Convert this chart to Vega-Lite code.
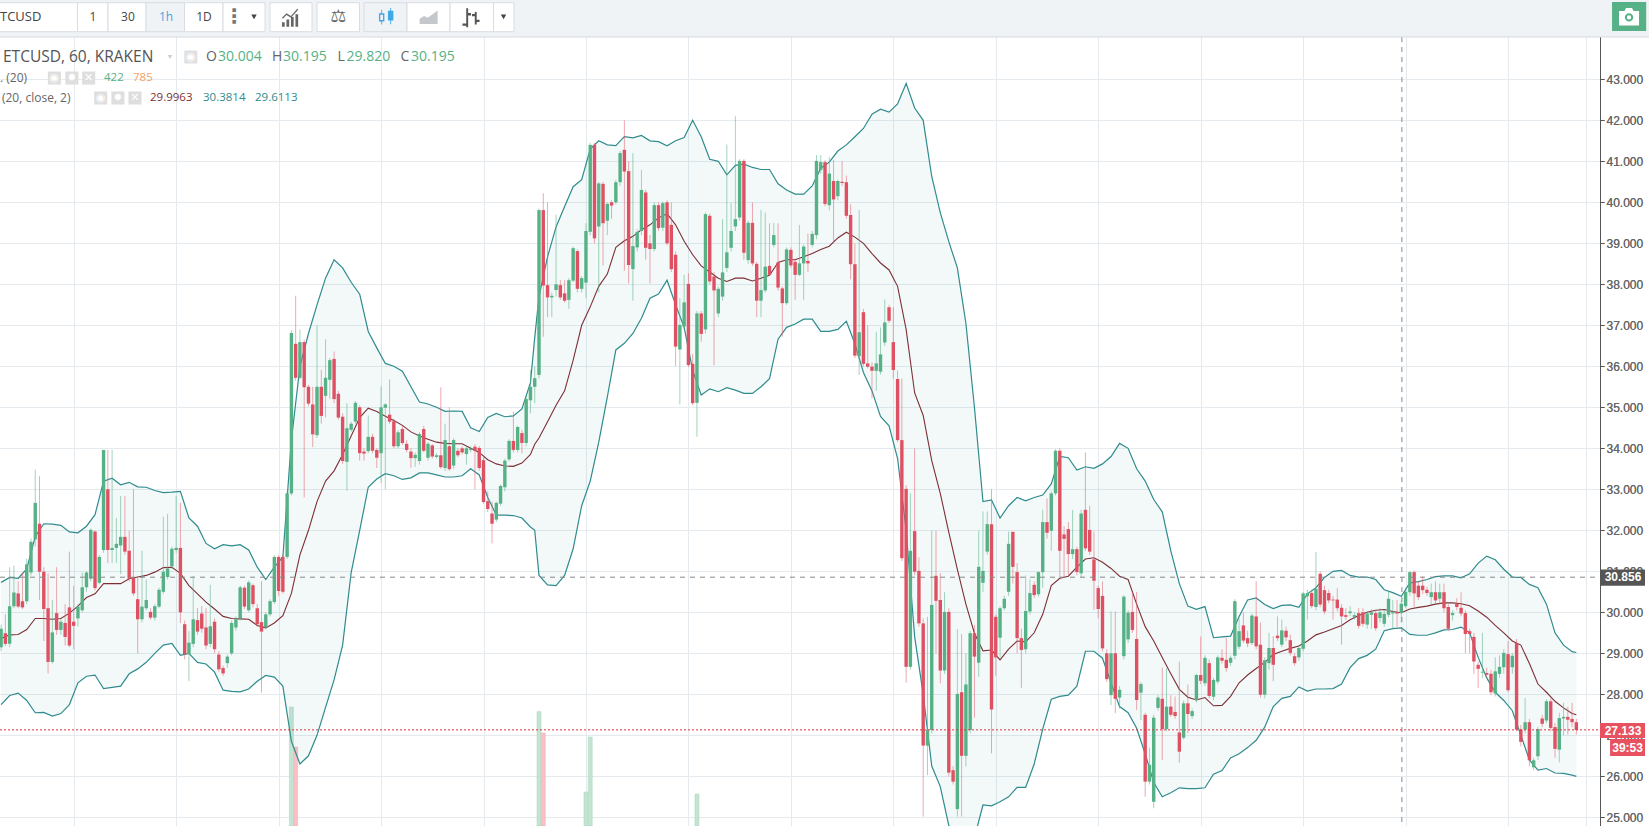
{"$schema":"https://vega.github.io/schema/vega-lite/v6.json","width":1600,"height":826,"autosize":{"type":"none"},"padding":{"left":0,"top":0,"right":49,"bottom":0},"background":"#ffffff","config":{"view":{"stroke":null},"text":{"font":"Open Sans","baseline":"middle","align":"left"}},
"datasets":{
"candles":[
{"t":0,"o":29.15,"h":29.7,"l":29.05,"c":29.6},{"t":1,"o":29.49,"h":29.95,"l":29.18,"c":29.23},{"t":2,"o":29.23,"h":31.1,"l":29.15,"c":30.15},{"t":3,"o":30.15,"h":31.14,"l":30.1,"c":30.48},{"t":4,"o":30.46,"h":30.76,"l":30.1,"c":30.14},{"t":5,"o":30.27,"h":30.97,"l":30.08,"c":30.12},{"t":6,"o":30.27,"h":31.31,"l":30.2,"c":31.17},{"t":7,"o":30.97,"h":31.8,"l":30.9,"c":31.72},{"t":8,"o":31.78,"h":33.48,"l":31.6,"c":32.67},{"t":9,"o":32.16,"h":33.32,"l":30.3,"c":30.99},
{"t":10,"o":30.99,"h":31.1,"l":29.3,"c":30.08},{"t":11,"o":30.1,"h":30.95,"l":28.51,"c":28.79},{"t":12,"o":28.79,"h":30.3,"l":28.75,"c":29.51},{"t":13,"o":29.98,"h":31.1,"l":29.45,"c":29.57},{"t":14,"o":29.57,"h":29.85,"l":29.45,"c":29.77},{"t":15,"o":29.74,"h":30.2,"l":29.19,"c":29.4},{"t":16,"o":30.12,"h":31.48,"l":29.15,"c":29.19},{"t":17,"o":29.77,"h":30.65,"l":29.1,"c":29.67},{"t":18,"o":29.85,"h":30.2,"l":29.65,"c":30.14},{"t":19,"o":30.05,"h":30.97,"l":30.0,"c":30.61},
{"t":20,"o":30.61,"h":31.0,"l":30.5,"c":30.97},{"t":21,"o":30.82,"h":32.05,"l":30.75,"c":32.01},{"t":22,"o":31.97,"h":32.0,"l":30.53,"c":30.59},{"t":23,"o":30.72,"h":31.4,"l":30.68,"c":31.35},{"t":24,"o":31.52,"h":33.96,"l":31.45,"c":33.96},{"t":25,"o":33.0,"h":33.96,"l":31.2,"c":31.52},{"t":26,"o":31.52,"h":33.96,"l":31.2,"c":31.57},{"t":27,"o":31.57,"h":32.3,"l":31.2,"c":31.67},{"t":28,"o":31.63,"h":32.84,"l":30.93,"c":31.84},{"t":29,"o":31.84,"h":32.84,"l":31.4,"c":31.48},
{"t":30,"o":31.5,"h":31.99,"l":30.75,"c":30.82},{"t":31,"o":30.84,"h":33.0,"l":30.4,"c":30.46},{"t":32,"o":30.32,"h":30.84,"l":29.0,"c":29.83},{"t":33,"o":29.83,"h":31.5,"l":29.75,"c":30.14},{"t":34,"o":30.1,"h":30.8,"l":30.05,"c":30.3},{"t":35,"o":30.01,"h":30.1,"l":29.82,"c":29.87},{"t":36,"o":29.87,"h":30.2,"l":29.8,"c":30.15},{"t":37,"o":30.14,"h":30.6,"l":30.1,"c":30.55},{"t":38,"o":30.5,"h":32.33,"l":30.45,"c":30.99},{"t":39,"o":30.86,"h":32.4,"l":30.8,"c":31.07},
{"t":40,"o":31.12,"h":31.6,"l":31.05,"c":31.55},{"t":41,"o":31.52,"h":32.84,"l":31.45,"c":31.57},{"t":42,"o":31.57,"h":32.67,"l":29.74,"c":30.0},{"t":43,"o":29.71,"h":29.8,"l":28.85,"c":28.98},{"t":44,"o":28.98,"h":29.55,"l":28.32,"c":29.26},{"t":45,"o":29.23,"h":30.89,"l":29.15,"c":29.83},{"t":46,"o":29.81,"h":30.1,"l":29.45,"c":29.53},{"t":47,"o":29.97,"h":30.15,"l":29.5,"c":29.6},{"t":48,"o":29.63,"h":30.1,"l":29.1,"c":29.19},{"t":49,"o":29.23,"h":30.67,"l":29.15,"c":29.66},
{"t":50,"o":29.77,"h":29.85,"l":29.0,"c":29.1},{"t":51,"o":28.97,"h":29.05,"l":28.55,"c":28.61},{"t":52,"o":28.64,"h":28.7,"l":28.45,"c":28.51},{"t":53,"o":28.76,"h":28.97,"l":28.65,"c":28.92},{"t":54,"o":29.0,"h":29.8,"l":28.95,"c":29.74},{"t":55,"o":29.63,"h":29.9,"l":29.55,"c":29.83},{"t":56,"o":29.85,"h":30.65,"l":29.8,"c":30.61},{"t":57,"o":30.6,"h":30.65,"l":30.08,"c":30.14},{"t":58,"o":30.05,"h":30.78,"l":30.0,"c":30.73},{"t":59,"o":30.66,"h":30.7,"l":30.12,"c":30.2},
{"t":60,"o":30.1,"h":30.2,"l":29.65,"c":29.71},{"t":61,"o":29.76,"h":30.76,"l":28.04,"c":29.53},{"t":62,"o":29.63,"h":30.0,"l":29.58,"c":29.95},{"t":63,"o":29.95,"h":30.32,"l":29.9,"c":30.27},{"t":64,"o":30.25,"h":31.4,"l":30.2,"c":31.35},{"t":65,"o":31.35,"h":31.4,"l":30.4,"c":30.52},{"t":66,"o":31.35,"h":31.4,"l":30.45,"c":30.5},{"t":67,"o":31.35,"h":32.95,"l":31.3,"c":32.9},{"t":68,"o":32.9,"h":36.88,"l":32.85,"c":36.81},{"t":69,"o":36.55,"h":37.72,"l":35.65,"c":35.72},
{"t":70,"o":35.72,"h":36.9,"l":35.68,"c":36.59},{"t":71,"o":36.59,"h":36.65,"l":32.8,"c":35.49},{"t":72,"o":35.5,"h":35.55,"l":35.03,"c":35.09},{"t":73,"o":35.07,"h":35.5,"l":34.03,"c":34.34},{"t":74,"o":34.32,"h":37.0,"l":34.25,"c":35.5},{"t":75,"o":35.5,"h":35.91,"l":34.6,"c":34.79},{"t":76,"o":35.28,"h":36.66,"l":34.75,"c":35.72},{"t":77,"o":35.67,"h":36.2,"l":35.2,"c":36.15},{"t":78,"o":36.18,"h":36.36,"l":35.1,"c":35.2},{"t":79,"o":35.33,"h":35.4,"l":34.7,"c":34.75},
{"t":80,"o":34.77,"h":34.85,"l":33.62,"c":33.69},{"t":81,"o":33.67,"h":35.1,"l":32.97,"c":34.49},{"t":82,"o":34.45,"h":34.65,"l":34.4,"c":34.6},{"t":83,"o":34.65,"h":35.15,"l":34.6,"c":35.11},{"t":84,"o":35.0,"h":35.05,"l":33.7,"c":33.88},{"t":85,"o":33.92,"h":34.0,"l":33.7,"c":33.87},{"t":86,"o":33.93,"h":34.8,"l":33.88,"c":34.28},{"t":87,"o":34.28,"h":34.35,"l":33.88,"c":33.94},{"t":88,"o":33.96,"h":34.0,"l":33.52,"c":33.77},{"t":89,"o":33.88,"h":35.51,"l":33.15,"c":35.0},
{"t":90,"o":34.99,"h":35.1,"l":33.0,"c":35.07},{"t":91,"o":34.82,"h":35.68,"l":34.6,"c":34.65},{"t":92,"o":34.66,"h":34.72,"l":34.0,"c":34.05},{"t":93,"o":34.05,"h":34.45,"l":34.0,"c":34.39},{"t":94,"o":34.47,"h":34.55,"l":34.08,"c":34.13},{"t":95,"o":34.11,"h":34.2,"l":33.9,"c":33.96},{"t":96,"o":33.92,"h":34.0,"l":33.52,"c":33.76},{"t":97,"o":33.76,"h":33.9,"l":33.55,"c":33.84},{"t":98,"o":33.69,"h":34.4,"l":33.6,"c":34.35},{"t":99,"o":34.47,"h":34.55,"l":33.9,"c":33.94},
{"t":100,"o":33.77,"h":34.15,"l":33.7,"c":34.11},{"t":101,"o":34.07,"h":34.1,"l":33.75,"c":33.8},{"t":102,"o":33.79,"h":33.88,"l":33.75,"c":33.83},{"t":103,"o":33.83,"h":35.49,"l":33.5,"c":33.54},{"t":104,"o":33.52,"h":34.6,"l":33.45,"c":34.2},{"t":105,"o":34.05,"h":35.0,"l":33.45,"c":33.49},{"t":106,"o":33.58,"h":34.25,"l":33.5,"c":34.2},{"t":107,"o":33.94,"h":34.0,"l":33.78,"c":33.83},{"t":108,"o":34.0,"h":34.05,"l":33.85,"c":33.9},{"t":109,"o":33.86,"h":34.05,"l":33.6,"c":34.0},
{"t":110,"o":33.96,"h":34.05,"l":33.9,"c":33.99},{"t":111,"o":34.04,"h":34.1,"l":33.0,"c":33.94},{"t":112,"o":34.01,"h":34.05,"l":33.45,"c":33.52},{"t":113,"o":33.71,"h":33.8,"l":32.65,"c":32.69},{"t":114,"o":32.71,"h":32.95,"l":32.45,"c":32.52},{"t":115,"o":32.41,"h":32.7,"l":31.68,"c":32.16},{"t":116,"o":32.26,"h":32.7,"l":32.2,"c":32.67},{"t":117,"o":32.65,"h":33.12,"l":32.6,"c":33.08},{"t":118,"o":33.05,"h":33.75,"l":32.95,"c":33.7},{"t":119,"o":33.73,"h":34.22,"l":33.68,"c":34.18},
{"t":120,"o":34.18,"h":34.89,"l":33.9,"c":33.96},{"t":121,"o":33.96,"h":34.55,"l":33.9,"c":34.52},{"t":122,"o":34.37,"h":34.45,"l":33.88,"c":34.13},{"t":123,"o":34.13,"h":35.3,"l":34.05,"c":35.2},{"t":124,"o":35.17,"h":35.91,"l":34.85,"c":35.5},{"t":125,"o":35.5,"h":36.0,"l":35.1,"c":35.71},{"t":126,"o":35.79,"h":39.85,"l":35.7,"c":39.81},{"t":127,"o":39.81,"h":40.22,"l":36.72,"c":37.97},{"t":128,"o":37.98,"h":40.0,"l":37.2,"c":37.68},{"t":129,"o":37.68,"h":37.8,"l":37.2,"c":37.72},
{"t":130,"o":37.86,"h":39.7,"l":37.7,"c":38.0},{"t":131,"o":37.98,"h":38.1,"l":37.62,"c":37.68},{"t":132,"o":37.78,"h":38.1,"l":37.55,"c":37.6},{"t":133,"o":37.62,"h":38.15,"l":37.4,"c":38.1},{"t":134,"o":38.09,"h":38.92,"l":38.05,"c":38.88},{"t":135,"o":38.81,"h":38.85,"l":37.8,"c":37.89},{"t":136,"o":37.89,"h":38.2,"l":37.8,"c":38.15},{"t":137,"o":38.04,"h":39.49,"l":37.66,"c":39.3},{"t":138,"o":39.28,"h":41.45,"l":39.2,"c":41.4},{"t":139,"o":41.4,"h":41.45,"l":39.0,"c":39.12},
{"t":140,"o":39.41,"h":40.5,"l":37.8,"c":40.46},{"t":141,"o":40.45,"h":40.5,"l":38.46,"c":39.49},{"t":142,"o":39.55,"h":40.0,"l":39.2,"c":39.96},{"t":143,"o":40.0,"h":40.05,"l":39.6,"c":39.92},{"t":144,"o":40.0,"h":40.55,"l":39.95,"c":40.49},{"t":145,"o":40.49,"h":41.25,"l":40.4,"c":41.2},{"t":146,"o":41.28,"h":42.0,"l":38.33,"c":40.75},{"t":147,"o":40.76,"h":41.0,"l":38.02,"c":38.47},{"t":148,"o":38.37,"h":41.2,"l":37.6,"c":38.93},{"t":149,"o":38.9,"h":39.35,"l":38.8,"c":39.28},
{"t":150,"o":39.3,"h":40.79,"l":39.2,"c":40.3},{"t":151,"o":40.24,"h":40.3,"l":38.6,"c":38.89},{"t":152,"o":39.0,"h":39.2,"l":38.02,"c":38.86},{"t":153,"o":38.86,"h":40.0,"l":38.8,"c":39.93},{"t":154,"o":39.93,"h":40.0,"l":39.3,"c":39.37},{"t":155,"o":39.38,"h":40.02,"l":39.3,"c":39.98},{"t":156,"o":40.0,"h":40.05,"l":38.95,"c":39.0},{"t":157,"o":39.45,"h":40.0,"l":38.3,"c":38.37},{"t":158,"o":38.72,"h":38.8,"l":36.0,"c":36.48},{"t":159,"o":36.41,"h":37.66,"l":35.07,"c":37.01},
{"t":160,"o":36.97,"h":38.23,"l":36.9,"c":37.56},{"t":161,"o":38.01,"h":38.27,"l":35.98,"c":36.03},{"t":162,"o":36.06,"h":36.3,"l":35.05,"c":35.1},{"t":163,"o":35.11,"h":37.35,"l":34.28,"c":37.29},{"t":164,"o":37.29,"h":37.35,"l":36.6,"c":36.79},{"t":165,"o":36.9,"h":39.75,"l":36.8,"c":39.71},{"t":166,"o":39.67,"h":39.72,"l":38.0,"c":38.07},{"t":167,"o":38.19,"h":38.3,"l":36.03,"c":37.85},{"t":168,"o":37.29,"h":37.95,"l":37.2,"c":37.89},{"t":169,"o":37.7,"h":39.59,"l":37.6,"c":38.29},
{"t":170,"o":38.4,"h":41.41,"l":38.3,"c":38.78},{"t":171,"o":38.89,"h":39.98,"l":38.8,"c":39.3},{"t":172,"o":39.41,"h":42.1,"l":39.3,"c":39.59},{"t":173,"o":39.63,"h":41.05,"l":39.55,"c":41.01},{"t":174,"o":41.01,"h":41.05,"l":38.6,"c":38.77},{"t":175,"o":38.59,"h":39.55,"l":38.5,"c":39.5},{"t":176,"o":39.5,"h":40.0,"l":38.45,"c":38.51},{"t":177,"o":38.5,"h":38.55,"l":37.2,"c":37.6},{"t":178,"o":37.6,"h":39.81,"l":37.2,"c":37.86},{"t":179,"o":37.85,"h":39.75,"l":37.8,"c":38.43},
{"t":180,"o":38.45,"h":39.49,"l":38.2,"c":38.23},{"t":181,"o":38.96,"h":39.49,"l":38.9,"c":39.2},{"t":182,"o":38.53,"h":39.49,"l":37.85,"c":37.92},{"t":183,"o":37.9,"h":37.95,"l":36.72,"c":37.54},{"t":184,"o":37.54,"h":38.9,"l":37.5,"c":38.85},{"t":185,"o":38.84,"h":38.9,"l":38.4,"c":38.46},{"t":186,"o":38.55,"h":38.6,"l":37.62,"c":38.23},{"t":187,"o":38.23,"h":39.45,"l":38.2,"c":38.51},{"t":188,"o":38.51,"h":38.97,"l":37.62,"c":38.92},{"t":189,"o":38.57,"h":39.24,"l":38.3,"c":38.51},
{"t":190,"o":38.96,"h":39.3,"l":38.9,"c":39.23},{"t":191,"o":39.2,"h":41.15,"l":39.1,"c":41.01},{"t":192,"o":40.79,"h":41.15,"l":40.7,"c":40.98},{"t":193,"o":40.98,"h":41.03,"l":39.9,"c":39.96},{"t":194,"o":39.93,"h":41.1,"l":39.8,"c":40.7},{"t":195,"o":40.52,"h":41.03,"l":39.0,"c":40.07},{"t":196,"o":40.15,"h":40.55,"l":40.05,"c":40.52},{"t":197,"o":40.5,"h":41.0,"l":40.4,"c":40.47},{"t":198,"o":40.49,"h":40.65,"l":39.6,"c":39.67},{"t":199,"o":39.69,"h":39.95,"l":38.12,"c":38.49},
{"t":200,"o":38.49,"h":39.0,"l":36.2,"c":36.26},{"t":201,"o":36.25,"h":39.81,"l":35.79,"c":36.83},{"t":202,"o":37.32,"h":37.4,"l":36.0,"c":36.06},{"t":203,"o":36.07,"h":37.0,"l":35.95,"c":35.99},{"t":204,"o":35.99,"h":36.1,"l":35.22,"c":35.89},{"t":205,"o":35.89,"h":36.84,"l":35.4,"c":36.07},{"t":206,"o":35.87,"h":36.95,"l":35.8,"c":36.29},{"t":207,"o":36.58,"h":37.63,"l":36.5,"c":37.07},{"t":208,"o":37.44,"h":37.5,"l":37.05,"c":37.11},{"t":209,"o":36.59,"h":37.44,"l":35.7,"c":35.91},
{"t":210,"o":35.69,"h":35.9,"l":34.15,"c":34.2},{"t":211,"o":34.2,"h":35.7,"l":31.25,"c":31.32},{"t":212,"o":33.01,"h":33.1,"l":28.28,"c":28.67},{"t":213,"o":28.67,"h":32.9,"l":28.6,"c":31.5},{"t":214,"o":31.98,"h":34.0,"l":30.9,"c":30.99},{"t":215,"o":31.01,"h":31.34,"l":29.65,"c":29.73},{"t":216,"o":29.73,"h":29.85,"l":25.02,"c":26.75},{"t":217,"o":26.75,"h":29.89,"l":26.03,"c":27.13},{"t":218,"o":27.13,"h":31.99,"l":27.05,"c":30.18},{"t":219,"o":30.89,"h":31.99,"l":29.0,"c":30.28},
{"t":220,"o":30.3,"h":30.95,"l":28.27,"c":28.58},{"t":221,"o":28.58,"h":30.49,"l":28.5,"c":30.01},{"t":222,"o":30.01,"h":30.1,"l":26.0,"c":26.09},{"t":223,"o":26.15,"h":26.25,"l":25.8,"c":25.87},{"t":224,"o":25.2,"h":29.59,"l":25.02,"c":28.01},{"t":225,"o":28.05,"h":29.47,"l":25.02,"c":26.5},{"t":226,"o":26.5,"h":29.0,"l":26.24,"c":28.24},{"t":227,"o":27.13,"h":29.55,"l":27.05,"c":29.49},{"t":228,"o":29.49,"h":29.69,"l":27.43,"c":28.92},{"t":229,"o":28.77,"h":31.99,"l":28.43,"c":31.11},
{"t":230,"o":30.72,"h":32.46,"l":30.49,"c":31.01},{"t":231,"o":31.48,"h":32.46,"l":31.4,"c":32.15},{"t":232,"o":32.15,"h":33.0,"l":26.56,"c":27.63},{"t":233,"o":29.89,"h":29.95,"l":28.45,"c":28.9},{"t":234,"o":29.38,"h":30.15,"l":28.9,"c":30.1},{"t":235,"o":30.1,"h":30.4,"l":30.05,"c":30.33},{"t":236,"o":30.5,"h":31.97,"l":30.4,"c":31.67},{"t":237,"o":31.96,"h":31.98,"l":30.7,"c":31.11},{"t":238,"o":30.98,"h":31.2,"l":29.0,"c":29.37},{"t":239,"o":29.37,"h":29.6,"l":28.16,"c":29.08},
{"t":240,"o":29.1,"h":30.9,"l":29.0,"c":30.03},{"t":241,"o":30.02,"h":30.8,"l":29.95,"c":30.47},{"t":242,"o":30.67,"h":30.75,"l":30.35,"c":30.42},{"t":243,"o":30.44,"h":31.0,"l":30.38,"c":30.98},{"t":244,"o":30.98,"h":32.5,"l":30.6,"c":32.2},{"t":245,"o":32.2,"h":32.78,"l":31.8,"c":31.94},{"t":246,"o":31.99,"h":32.95,"l":31.5,"c":32.9},{"t":247,"o":32.9,"h":33.98,"l":32.85,"c":33.94},{"t":248,"o":33.94,"h":34.0,"l":30.83,"c":31.5},{"t":249,"o":31.9,"h":32.1,"l":30.83,"c":31.79},
{"t":250,"o":32.03,"h":32.2,"l":30.88,"c":31.42},{"t":251,"o":31.42,"h":32.5,"l":31.3,"c":31.54},{"t":252,"o":31.54,"h":31.6,"l":30.9,"c":30.98},{"t":253,"o":30.95,"h":32.5,"l":30.85,"c":32.41},{"t":254,"o":32.5,"h":33.9,"l":31.5,"c":31.56},{"t":255,"o":32.01,"h":32.6,"l":31.4,"c":31.48},{"t":256,"o":31.29,"h":31.97,"l":30.06,"c":30.77},{"t":257,"o":30.59,"h":30.65,"l":29.85,"c":30.08},{"t":258,"o":30.4,"h":30.75,"l":29.05,"c":29.12},{"t":259,"o":29.0,"h":29.1,"l":28.3,"c":28.37},
{"t":260,"o":27.98,"h":30.02,"l":27.74,"c":29.0},{"t":261,"o":29.0,"h":30.02,"l":27.54,"c":27.89},{"t":262,"o":27.92,"h":28.2,"l":27.65,"c":28.11},{"t":263,"o":28.93,"h":30.42,"l":28.85,"c":30.38},{"t":264,"o":29.34,"h":30.05,"l":29.25,"c":29.99},{"t":265,"o":30.01,"h":30.49,"l":29.5,"c":29.57},{"t":266,"o":29.35,"h":30.5,"l":27.62,"c":27.86},{"t":267,"o":28.04,"h":28.3,"l":27.37,"c":28.25},{"t":268,"o":27.5,"h":27.55,"l":25.5,"c":25.87},{"t":269,"o":25.87,"h":26.7,"l":25.8,"c":26.28},
{"t":270,"o":25.38,"h":27.5,"l":25.22,"c":27.43},{"t":271,"o":27.67,"h":27.98,"l":27.6,"c":27.92},{"t":272,"o":27.89,"h":28.65,"l":26.4,"c":27.15},{"t":273,"o":27.15,"h":28.63,"l":27.1,"c":27.7},{"t":274,"o":27.7,"h":27.98,"l":27.45,"c":27.5},{"t":275,"o":27.57,"h":27.95,"l":27.4,"c":27.47},{"t":276,"o":27.07,"h":28.8,"l":26.33,"c":26.6},{"t":277,"o":26.94,"h":27.85,"l":26.9,"c":27.78},{"t":278,"o":27.78,"h":28.24,"l":27.05,"c":27.52},{"t":279,"o":27.47,"h":27.65,"l":27.4,"c":27.59},
{"t":280,"o":27.86,"h":28.5,"l":27.8,"c":28.47},{"t":281,"o":28.47,"h":29.41,"l":28.25,"c":28.33},{"t":282,"o":28.27,"h":28.95,"l":28.2,"c":28.89},{"t":283,"o":28.76,"h":28.85,"l":27.9,"c":27.96},{"t":284,"o":27.94,"h":28.4,"l":27.85,"c":28.35},{"t":285,"o":28.31,"h":28.95,"l":28.25,"c":28.9},{"t":286,"o":28.89,"h":29.1,"l":28.75,"c":28.82},{"t":287,"o":28.84,"h":29.37,"l":28.55,"c":28.64},{"t":288,"o":28.77,"h":28.95,"l":28.7,"c":28.89},{"t":289,"o":28.94,"h":30.32,"l":28.85,"c":30.27},
{"t":290,"o":29.16,"h":29.85,"l":29.1,"c":29.54},{"t":291,"o":29.68,"h":30.0,"l":29.25,"c":29.31},{"t":292,"o":29.37,"h":29.55,"l":29.15,"c":29.24},{"t":293,"o":29.25,"h":29.97,"l":29.2,"c":29.92},{"t":294,"o":29.9,"h":30.76,"l":29.1,"c":29.17},{"t":295,"o":29.21,"h":29.75,"l":27.92,"c":27.99},{"t":296,"o":27.99,"h":28.9,"l":27.9,"c":28.83},{"t":297,"o":28.76,"h":29.5,"l":28.6,"c":29.13},{"t":298,"o":29.13,"h":29.42,"l":28.32,"c":28.72},{"t":299,"o":29.43,"h":29.9,"l":29.3,"c":29.37},
{"t":300,"o":29.21,"h":29.82,"l":29.15,"c":29.56},{"t":301,"o":29.55,"h":29.65,"l":29.3,"c":29.39},{"t":302,"o":29.32,"h":29.45,"l":28.95,"c":29.01},{"t":303,"o":28.93,"h":29.0,"l":28.7,"c":28.76},{"t":304,"o":28.9,"h":29.2,"l":28.82,"c":29.13},{"t":305,"o":29.11,"h":30.5,"l":29.05,"c":30.46},{"t":306,"o":30.39,"h":30.55,"l":29.82,"c":30.47},{"t":307,"o":30.47,"h":30.55,"l":30.1,"c":30.15},{"t":308,"o":30.13,"h":31.47,"l":30.05,"c":30.57},{"t":309,"o":30.94,"h":31.0,"l":30.12,"c":30.19},
{"t":310,"o":30.54,"h":30.65,"l":29.95,"c":30.02},{"t":311,"o":30.47,"h":30.55,"l":30.22,"c":30.29},{"t":312,"o":30.31,"h":30.4,"l":29.82,"c":30.29},{"t":313,"o":30.31,"h":30.59,"l":30.02,"c":30.1},{"t":314,"o":30.11,"h":30.2,"l":29.21,"c":29.9},{"t":315,"o":29.93,"h":30.1,"l":29.82,"c":29.89},{"t":316,"o":29.98,"h":30.15,"l":29.9,"c":30.02},{"t":317,"o":29.89,"h":30.0,"l":29.82,"c":29.93},{"t":318,"o":29.98,"h":30.1,"l":29.6,"c":29.67},{"t":319,"o":30.0,"h":30.1,"l":29.65,"c":29.72},
{"t":320,"o":29.7,"h":30.02,"l":29.6,"c":29.97},{"t":321,"o":29.94,"h":30.07,"l":29.6,"c":30.0},{"t":322,"o":29.98,"h":30.05,"l":29.55,"c":29.61},{"t":323,"o":29.86,"h":30.1,"l":29.75,"c":30.0},{"t":324,"o":29.72,"h":30.05,"l":29.65,"c":29.96},{"t":325,"o":29.94,"h":30.5,"l":29.88,"c":30.33},{"t":326,"o":29.97,"h":30.3,"l":29.6,"c":30.0},{"t":327,"o":30.0,"h":30.3,"l":29.65,"c":29.97},{"t":328,"o":29.98,"h":30.3,"l":29.75,"c":30.21},{"t":329,"o":30.15,"h":30.6,"l":30.1,"c":30.5},
{"t":330,"o":30.49,"h":31.0,"l":30.4,"c":30.98},{"t":331,"o":30.98,"h":31.02,"l":30.13,"c":30.46},{"t":332,"o":30.65,"h":30.75,"l":30.3,"c":30.37},{"t":333,"o":30.65,"h":30.88,"l":30.45,"c":30.54},{"t":334,"o":30.55,"h":30.62,"l":30.4,"c":30.47},{"t":335,"o":30.37,"h":30.7,"l":30.2,"c":30.49},{"t":336,"o":30.49,"h":30.75,"l":30.2,"c":30.29},{"t":337,"o":30.33,"h":30.7,"l":30.2,"c":30.49},{"t":338,"o":30.49,"h":30.7,"l":30.0,"c":30.1},{"t":339,"o":30.13,"h":30.2,"l":29.55,"c":29.6},
{"t":340,"o":29.93,"h":30.05,"l":29.8,"c":29.98},{"t":341,"o":30.21,"h":30.35,"l":30.05,"c":30.13},{"t":342,"o":30.11,"h":30.49,"l":29.9,"c":29.97},{"t":343,"o":29.98,"h":30.05,"l":29.0,"c":29.47},{"t":344,"o":29.54,"h":29.6,"l":29.0,"c":29.47},{"t":345,"o":29.4,"h":29.5,"l":28.5,"c":28.8},{"t":346,"o":28.72,"h":28.8,"l":28.15,"c":28.62},{"t":347,"o":28.53,"h":29.5,"l":28.4,"c":28.55},{"t":348,"o":28.52,"h":28.65,"l":28.4,"c":28.48},{"t":349,"o":28.5,"h":28.6,"l":27.98,"c":28.05},
{"t":350,"o":28.02,"h":28.9,"l":27.95,"c":28.56},{"t":351,"o":28.5,"h":28.95,"l":28.4,"c":28.67},{"t":352,"o":28.66,"h":29.1,"l":28.5,"c":29.01},{"t":353,"o":28.98,"h":29.3,"l":28.05,"c":28.1},{"t":354,"o":28.66,"h":29.0,"l":28.5,"c":28.94},{"t":355,"o":29.25,"h":29.35,"l":27.1,"c":27.14},{"t":356,"o":27.14,"h":27.25,"l":26.73,"c":26.84},{"t":357,"o":27.14,"h":27.91,"l":27.05,"c":27.32},{"t":358,"o":27.32,"h":27.4,"l":26.24,"c":26.39},{"t":359,"o":26.22,"h":26.45,"l":26.15,"c":26.39},
{"t":360,"o":26.49,"h":27.2,"l":26.4,"c":27.15},{"t":361,"o":27.41,"h":27.5,"l":27.2,"c":27.28},{"t":362,"o":27.36,"h":27.88,"l":27.3,"c":27.83},{"t":363,"o":27.83,"h":27.9,"l":27.1,"c":27.18},{"t":364,"o":27.2,"h":27.3,"l":26.45,"c":26.67},{"t":365,"o":26.65,"h":27.55,"l":26.34,"c":27.42},{"t":366,"o":27.41,"h":27.79,"l":27.0,"c":27.45},{"t":367,"o":27.45,"h":27.7,"l":27.02,"c":27.38},{"t":368,"o":27.4,"h":27.79,"l":27.2,"c":27.32},{"t":369,"o":27.32,"h":27.4,"l":27.02,"c":27.13}
],
"bands":[
{"t":0,"u":30.73,"m":29.36,"b":27.75},{"t":2,"u":30.85,"m":29.45,"b":27.97},{"t":4,"u":30.83,"m":29.46,"b":28.03},{"t":6,"u":31.06,"m":29.58,"b":27.85},{"t":8,"u":31.85,"m":29.85,"b":27.55},{"t":10,"u":32.16,"m":29.85,"b":27.56},{"t":12,"u":32.15,"m":29.83,"b":27.47},{"t":14,"u":32.12,"m":29.85,"b":27.53},{"t":16,"u":31.96,"m":29.98,"b":27.75},{"t":18,"u":31.94,"m":30.15,"b":28.28},{"t":20,"u":32.1,"m":30.36,"b":28.44},{"t":22,"u":32.38,"m":30.45,"b":28.47},{"t":24,"u":33.2,"m":30.7,"b":28.14},{"t":26,"u":33.27,"m":30.7,"b":28.17},{"t":28,"u":33.11,"m":30.7,"b":28.2},{"t":30,"u":33.17,"m":30.82,"b":28.5},{"t":32,"u":33.06,"m":30.86,"b":28.62},{"t":34,"u":33.05,"m":30.9,"b":28.78},{"t":36,"u":32.97,"m":30.98,"b":29.0},{"t":38,"u":32.92,"m":31.09,"b":29.2},{"t":40,"u":32.93,"m":31.1,"b":29.24},{"t":42,"u":32.95,"m":30.95,"b":28.95},{"t":44,"u":32.3,"m":30.65,"b":29.0},{"t":46,"u":32.1,"m":30.45,"b":28.78},{"t":48,"u":31.68,"m":30.25,"b":28.74},{"t":50,"u":31.55,"m":30.08,"b":28.54},{"t":52,"u":31.65,"m":29.9,"b":28.1},{"t":54,"u":31.62,"m":29.85,"b":28.07},{"t":56,"u":31.65,"m":29.84,"b":28.06},{"t":58,"u":31.52,"m":29.83,"b":28.13},{"t":60,"u":31.1,"m":29.68,"b":28.32},{"t":62,"u":30.8,"m":29.62,"b":28.46},{"t":64,"u":31.1,"m":29.74,"b":28.42},{"t":66,"u":31.35,"m":29.92,"b":28.2},{"t":68,"u":34.2,"m":30.46,"b":26.85},{"t":70,"u":36.0,"m":31.4,"b":26.3},{"t":72,"u":36.8,"m":32.0,"b":26.5},{"t":74,"u":37.5,"m":32.7,"b":27.0},{"t":76,"u":38.15,"m":33.2,"b":27.68},{"t":78,"u":38.6,"m":33.45,"b":28.35},{"t":80,"u":38.4,"m":33.85,"b":29.2},{"t":82,"u":38.05,"m":34.3,"b":30.97},{"t":84,"u":37.76,"m":34.75,"b":32.0},{"t":86,"u":36.85,"m":34.98,"b":33.05},{"t":88,"u":36.45,"m":34.9,"b":33.25},{"t":90,"u":36.07,"m":34.78,"b":33.38},{"t":92,"u":36.0,"m":34.68,"b":33.33},{"t":94,"u":35.88,"m":34.56,"b":33.24},{"t":96,"u":35.5,"m":34.4,"b":33.28},{"t":98,"u":35.13,"m":34.3,"b":33.4},{"t":100,"u":35.08,"m":34.22,"b":33.4},{"t":102,"u":35.0,"m":34.15,"b":33.35},{"t":104,"u":34.9,"m":34.12,"b":33.3},{"t":106,"u":34.91,"m":34.11,"b":33.3},{"t":108,"u":34.9,"m":34.11,"b":33.33},{"t":110,"u":34.5,"m":34.0,"b":33.5},{"t":112,"u":34.41,"m":33.9,"b":33.35},{"t":114,"u":34.75,"m":33.72,"b":32.8},{"t":116,"u":34.85,"m":33.62,"b":32.37},{"t":118,"u":34.77,"m":33.57,"b":32.37},{"t":120,"u":34.79,"m":33.56,"b":32.36},{"t":122,"u":34.96,"m":33.64,"b":32.3},{"t":124,"u":35.6,"m":33.85,"b":32.08},{"t":125,"u":36.7,"m":34.1,"b":32.0},{"t":126,"u":37.7,"m":34.25,"b":30.9},{"t":128,"u":38.67,"m":34.65,"b":30.67},{"t":130,"u":39.4,"m":35.05,"b":30.65},{"t":132,"u":39.9,"m":35.4,"b":30.9},{"t":134,"u":40.38,"m":36.15,"b":31.55},{"t":136,"u":40.55,"m":37.0,"b":32.6},{"t":138,"u":41.3,"m":37.45,"b":33.2},{"t":140,"u":41.5,"m":37.95,"b":34.15},{"t":142,"u":41.4,"m":38.25,"b":35.25},{"t":144,"u":41.38,"m":38.9,"b":36.4},{"t":146,"u":41.6,"m":39.06,"b":36.56},{"t":148,"u":41.57,"m":39.17,"b":36.8},{"t":150,"u":41.63,"m":39.33,"b":37.17},{"t":152,"u":41.5,"m":39.45,"b":37.66},{"t":154,"u":41.48,"m":39.62,"b":37.76},{"t":156,"u":41.38,"m":39.72,"b":38.1},{"t":158,"u":41.5,"m":39.45,"b":37.5},{"t":160,"u":41.58,"m":39.05,"b":36.95},{"t":162,"u":42.0,"m":38.72,"b":35.9},{"t":164,"u":41.6,"m":38.45,"b":35.3},{"t":166,"u":41.05,"m":38.3,"b":35.45},{"t":168,"u":41.0,"m":38.15,"b":35.38},{"t":170,"u":40.67,"m":38.07,"b":35.48},{"t":172,"u":40.9,"m":38.15,"b":35.42},{"t":174,"u":40.93,"m":38.15,"b":35.34},{"t":176,"u":40.85,"m":38.08,"b":35.34},{"t":178,"u":40.8,"m":38.15,"b":35.5},{"t":180,"u":40.8,"m":38.22,"b":35.7},{"t":182,"u":40.45,"m":38.53,"b":36.66},{"t":184,"u":40.3,"m":38.6,"b":36.95},{"t":186,"u":40.2,"m":38.6,"b":37.03},{"t":188,"u":40.2,"m":38.67,"b":37.15},{"t":190,"u":40.4,"m":38.75,"b":37.15},{"t":192,"u":40.83,"m":38.85,"b":36.85},{"t":194,"u":40.98,"m":38.93,"b":36.85},{"t":196,"u":41.25,"m":39.13,"b":36.9},{"t":198,"u":41.4,"m":39.27,"b":37.1},{"t":200,"u":41.6,"m":39.15,"b":36.55},{"t":202,"u":41.8,"m":39.0,"b":35.85},{"t":204,"u":42.15,"m":38.75,"b":35.4},{"t":206,"u":42.27,"m":38.52,"b":34.78},{"t":208,"u":42.2,"m":38.35,"b":34.55},{"t":210,"u":42.4,"m":37.95,"b":33.75},{"t":212,"u":42.9,"m":36.9,"b":32.0},{"t":214,"u":42.3,"m":35.35,"b":29.4},{"t":216,"u":42.0,"m":34.8,"b":28.0},{"t":218,"u":40.63,"m":33.7,"b":26.25},{"t":220,"u":39.75,"m":32.9,"b":25.75},{"t":222,"u":39.04,"m":31.95,"b":24.8},{"t":224,"u":38.4,"m":31.05,"b":24.1},{"t":226,"u":37.05,"m":30.2,"b":23.8},{"t":228,"u":35.0,"m":29.49,"b":24.5},{"t":230,"u":32.7,"m":29.06,"b":25.3},{"t":232,"u":32.74,"m":29.08,"b":25.28},{"t":234,"u":32.3,"m":28.84,"b":25.38},{"t":236,"u":32.6,"m":29.1,"b":25.5},{"t":238,"u":32.8,"m":29.3,"b":25.73},{"t":240,"u":32.72,"m":29.28,"b":25.73},{"t":242,"u":32.8,"m":29.5,"b":26.3},{"t":244,"u":32.86,"m":29.95,"b":27.15},{"t":246,"u":33.13,"m":30.65,"b":27.88},{"t":248,"u":33.8,"m":30.83,"b":27.95},{"t":250,"u":33.77,"m":30.88,"b":27.98},{"t":252,"u":33.47,"m":31.1,"b":28.2},{"t":254,"u":33.55,"m":31.3,"b":29.05},{"t":256,"u":33.51,"m":31.33,"b":29.05},{"t":258,"u":33.62,"m":31.22,"b":28.88},{"t":260,"u":33.8,"m":31.07,"b":28.28},{"t":262,"u":34.12,"m":30.88,"b":27.7},{"t":264,"u":34.0,"m":30.8,"b":27.55},{"t":266,"u":33.5,"m":30.2,"b":27.17},{"t":268,"u":33.2,"m":29.65,"b":26.55},{"t":270,"u":32.75,"m":29.3,"b":25.85},{"t":272,"u":32.45,"m":28.9,"b":25.5},{"t":274,"u":31.5,"m":28.5,"b":25.6},{"t":276,"u":30.7,"m":28.12,"b":25.72},{"t":278,"u":30.15,"m":27.93,"b":25.7},{"t":280,"u":30.07,"m":27.86,"b":25.7},{"t":282,"u":30.14,"m":27.92,"b":25.72},{"t":284,"u":29.38,"m":27.72,"b":26.05},{"t":286,"u":29.4,"m":27.73,"b":26.14},{"t":288,"u":29.42,"m":27.95,"b":26.45},{"t":290,"u":29.9,"m":28.28,"b":26.55},{"t":292,"u":30.3,"m":28.47,"b":26.7},{"t":294,"u":30.35,"m":28.63,"b":26.88},{"t":296,"u":30.19,"m":28.78,"b":27.2},{"t":298,"u":30.09,"m":28.97,"b":27.7},{"t":300,"u":30.17,"m":29.05,"b":27.9},{"t":302,"u":30.18,"m":29.12,"b":27.95},{"t":304,"u":30.12,"m":29.18,"b":28.18},{"t":306,"u":30.45,"m":29.3,"b":28.08},{"t":308,"u":30.6,"m":29.45,"b":28.13},{"t":310,"u":30.85,"m":29.52,"b":28.13},{"t":312,"u":31.0,"m":29.6,"b":28.14},{"t":314,"u":31.02,"m":29.68,"b":28.25},{"t":316,"u":30.9,"m":29.82,"b":28.65},{"t":318,"u":30.86,"m":29.92,"b":28.87},{"t":320,"u":30.86,"m":30.0,"b":28.95},{"t":322,"u":30.8,"m":30.05,"b":29.1},{"t":324,"u":30.55,"m":30.07,"b":29.55},{"t":326,"u":30.48,"m":30.02,"b":29.6},{"t":328,"u":30.39,"m":29.99,"b":29.62},{"t":330,"u":30.72,"m":30.08,"b":29.46},{"t":332,"u":30.75,"m":30.12,"b":29.44},{"t":334,"u":30.8,"m":30.15,"b":29.44},{"t":336,"u":30.87,"m":30.2,"b":29.5},{"t":338,"u":30.89,"m":30.23,"b":29.57},{"t":340,"u":30.89,"m":30.23,"b":29.58},{"t":342,"u":30.84,"m":30.21,"b":29.64},{"t":344,"u":30.94,"m":30.16,"b":29.5},{"t":346,"u":31.2,"m":30.03,"b":28.9},{"t":348,"u":31.37,"m":29.88,"b":28.4},{"t":350,"u":31.28,"m":29.68,"b":28.05},{"t":352,"u":31.05,"m":29.5,"b":27.85},{"t":354,"u":30.86,"m":29.3,"b":27.6},{"t":356,"u":30.85,"m":29.2,"b":27.0},{"t":358,"u":30.68,"m":28.75,"b":26.4},{"t":360,"u":30.6,"m":28.25,"b":26.15},{"t":362,"u":30.2,"m":28.05,"b":26.19},{"t":364,"u":29.5,"m":27.83,"b":26.08},{"t":366,"u":29.2,"m":27.67,"b":26.07},{"t":368,"u":29.04,"m":27.53,"b":26.03},{"t":369,"u":29.02,"m":27.5,"b":26.0}
],
"volume":[{"t":68,"v":11900,"s":"up"},{"t":69,"v":7900,"s":"down"},{"t":126,"v":11440,"s":"up"},{"t":127,"v":9300,"s":"down"},{"t":137,"v":3400,"s":"up"},{"t":138,"v":8900,"s":"up"},{"t":163,"v":3200,"s":"up"}]
},
"encoding":{"x":{"type":"quantitative","title":null,"axis":{"orient":"bottom","values":[17,41,65,89,113,137,161,185,209,233,257,281,305,329,353,371.2],"grid":true,"gridColor":"#e4eaee","gridWidth":1,"labels":false,"ticks":false,"domain":false,"title":null},"scale":{"domain":[-0.26,374.54],"nice":false,"zero":false,"padding":0}},"y":{"type":"quantitative","title":null,"axis":{"orient":"right","values":[25,26,27,28,29,30,31,32,33,34,35,36,37,38,39,40,41,42,43],"format":".3f","grid":true,"gridColor":"#e4eaee","gridWidth":1,"domain":true,"domainColor":"#555555","domainWidth":1,"ticks":true,"tickColor":"#555555","tickSize":4,"labelColor":"#666666","labelFont":"Liberation Sans","labelFontSize":12,"labelPadding":2,"title":null},"scale":{"domain":[24.788,44.934],"nice":false,"zero":false,"padding":0}}},
"layer":[
{"data":{"name":"volume"},"mark":{"type":"bar","size":4,"strokeWidth":0.5},"encoding":{"x":{"field":"t"},"y":{"field":"v","axis":null,"scale":{"domain":[0,82600],"nice":false,"zero":true,"padding":0}},"y2":{"datum":0},"color":{"condition":{"test":"datum.s==='up'","value":"#c3e4d2"},"value":"#f9c0c6"},"stroke":{"condition":{"test":"datum.s==='up'","value":"#a8d6bc"},"value":"#f2a9b1"}}},
{"layer":[
{"data":{"name":"bands"},"mark":{"type":"area","color":"#138484","opacity":0.05,"clip":true},"encoding":{"x":{"field":"t"},"y":{"field":"u"},"y2":{"field":"b"}}},
{"data":{"name":"bands"},"mark":{"type":"line","color":"#2f8b8d","strokeWidth":1.2,"clip":true},"encoding":{"x":{"field":"t"},"y":{"field":"u"}}},
{"data":{"name":"bands"},"mark":{"type":"line","color":"#2f8b8d","strokeWidth":1.2,"clip":true},"encoding":{"x":{"field":"t"},"y":{"field":"b"}}},
{"data":{"name":"bands"},"mark":{"type":"line","color":"#7d2f36","strokeWidth":1.1,"clip":true},"encoding":{"x":{"field":"t"},"y":{"field":"m"}}},
{"data":{"name":"candles"},"mark":{"type":"rule","strokeWidth":1,"opacity":0.55},"encoding":{"x":{"field":"t"},"y":{"field":"l"},"y2":{"field":"h"},"color":{"condition":{"test":"datum.c>=datum.o","value":"#56b186"},"value":"#e2606e"}}},
{"data":{"name":"candles"},"mark":{"type":"bar","size":3.4},"encoding":{"x":{"field":"t"},"y":{"field":"o"},"y2":{"field":"c"},"color":{"condition":{"test":"datum.c>=datum.o","value":"#56b186"},"value":"#de5162"}}}
]},
{"data":{"values":[{}]},"layer":[
{"mark":{"type":"rule","color":"#888888","strokeDash":[5,5]},"encoding":{"x":{"datum":-0.26},"x2":{"datum":374.54},"y":{"datum":30.856}}},
{"mark":{"type":"rule","color":"#888888","strokeDash":[5,5]},"encoding":{"x":{"datum":328.13},"y":{"datum":44.03},"y2":{"datum":24.788}}},
{"mark":{"type":"rule","color":"#e0323f","strokeDash":[2,2]},"encoding":{"x":{"datum":-0.26},"x2":{"datum":374.54},"y":{"datum":27.133}}},
{"mark":{"type":"rect","fill":"#f0f3f6"},"encoding":{"x":{"datum":-0.26},"x2":{"datum":386.03},"y":{"datum":44.934},"y2":{"datum":44.032}}},
{"mark":{"type":"rule","color":"#d5d9df"},"encoding":{"x":{"datum":-0.26},"x2":{"datum":386.03},"y":{"datum":44.032}}},
{"mark":{"type":"rect","fill":"#ffffff","stroke":"#d9dce2"},"encoding":{"x":{"datum":-1},"x2":{"datum":17.9},"y":{"datum":44.868},"y2":{"datum":44.161}}},
{"mark":{"type":"rect","fill":"#ffffff","stroke":"#d9dce2"},"encoding":{"x":{"datum":17.9},"x2":{"datum":25.04},"y":{"datum":44.868},"y2":{"datum":44.161}}},
{"mark":{"type":"rect","fill":"#ffffff","stroke":"#d9dce2"},"encoding":{"x":{"datum":25.04},"x2":{"datum":33.94},"y":{"datum":44.868},"y2":{"datum":44.161}}},
{"mark":{"type":"rect","fill":"#f0f3f6","stroke":"#d9dce2"},"encoding":{"x":{"datum":33.94},"x2":{"datum":42.96},"y":{"datum":44.868},"y2":{"datum":44.161}}},
{"mark":{"type":"rect","fill":"#ffffff","stroke":"#d9dce2"},"encoding":{"x":{"datum":42.96},"x2":{"datum":51.98},"y":{"datum":44.868},"y2":{"datum":44.161}}},
{"mark":{"type":"rect","fill":"#ffffff","stroke":"#d9dce2"},"encoding":{"x":{"datum":51.98},"x2":{"datum":61.82},"y":{"datum":44.868},"y2":{"datum":44.161}}},
{"mark":{"type":"rect","fill":"#ffffff","stroke":"#d9dce2"},"encoding":{"x":{"datum":62.99},"x2":{"datum":72.83},"y":{"datum":44.868},"y2":{"datum":44.161}}},
{"mark":{"type":"rect","fill":"#ffffff","stroke":"#d9dce2"},"encoding":{"x":{"datum":74},"x2":{"datum":83.95},"y":{"datum":44.868},"y2":{"datum":44.161}}},
{"mark":{"type":"rect","fill":"#f0f3f6","stroke":"#d9dce2"},"encoding":{"x":{"datum":85.01},"x2":{"datum":95.08},"y":{"datum":44.868},"y2":{"datum":44.161}}},
{"mark":{"type":"rect","fill":"#ffffff","stroke":"#d9dce2"},"encoding":{"x":{"datum":95.08},"x2":{"datum":105.16},"y":{"datum":44.868},"y2":{"datum":44.161}}},
{"mark":{"type":"rect","fill":"#ffffff","stroke":"#d9dce2"},"encoding":{"x":{"datum":105.16},"x2":{"datum":115.35},"y":{"datum":44.868},"y2":{"datum":44.161}}},
{"mark":{"type":"rect","fill":"#ffffff","stroke":"#d9dce2"},"encoding":{"x":{"datum":115.35},"x2":{"datum":120.15},"y":{"datum":44.868},"y2":{"datum":44.161}}},
{"mark":{"type":"text","text":"TCUSD","fontSize":13,"color":"#444444"},"encoding":{"x":{"datum":-0.26},"y":{"datum":44.52}}},
{"mark":{"type":"text","text":"1","fontSize":12,"color":"#444444","align":"center"},"encoding":{"x":{"datum":21.53},"y":{"datum":44.52}}},
{"mark":{"type":"text","text":"30","fontSize":12,"color":"#444444","align":"center"},"encoding":{"x":{"datum":29.72},"y":{"datum":44.52}}},
{"mark":{"type":"text","text":"1h","fontSize":12,"color":"#4aa3df","align":"center"},"encoding":{"x":{"datum":38.63},"y":{"datum":44.52}}},
{"mark":{"type":"text","text":"1D","fontSize":12,"color":"#444444","align":"center"},"encoding":{"x":{"datum":47.53},"y":{"datum":44.52}}},
{"mark":{"type":"text","text":"⋮","fontSize":20,"font":"DejaVu Sans","fontWeight":"bold","color":"#777777","align":"center"},"encoding":{"x":{"datum":54.56},"y":{"datum":44.52}}},
{"mark":{"type":"point","shape":"triangle-down","filled":true,"size":30,"color":"#444444","opacity":1},"encoding":{"x":{"datum":59.24},"y":{"datum":44.52}}},
{"mark":{"type":"point","shape":"triangle-down","filled":true,"size":30,"color":"#444444","opacity":1},"encoding":{"x":{"datum":117.69},"y":{"datum":44.52}}},
{"mark":{"type":"point","shape":"M-1 1V.5H-.7V1ZM-.5 1V.2H-.2V1ZM0 1V-.1H.3V1ZM.5 1V-.4H.8V1ZM-1 0L-.5-.5L0-.2L.7-1L.8-.9L0 0L-.5-.3L-.9.1Z","filled":true,"size":324,"color":"#666666","opacity":1},"encoding":{"x":{"datum":67.9},"y":{"datum":44.5}}},
{"mark":{"type":"text","text":"⚖","fontSize":18,"font":"DejaVu Sans","color":"#666666","align":"center"},"encoding":{"x":{"datum":79.0},"y":{"datum":44.52}}},
{"mark":{"type":"point","shape":"M-.8-.4H-.2V.5H-.8ZM-.65-.25V.35H-.35V-.25ZM-.55-.4V-.8H-.45V-.4ZM-.55.5V.85H-.45V.5ZM.2-.7H.8V.4H.2ZM.45-.7V-1H.55V-.7ZM.45.4V.8H.55V.4Z","filled":true,"size":324,"color":"#3fa9e6","opacity":1},"encoding":{"x":{"datum":90.2},"y":{"datum":44.52}}},
{"mark":{"type":"point","shape":"M-1 .1L-.5-.2L-.1 0L.6-.5L1-.8V.7H-1Z","filled":true,"size":324,"color":"#c4c7cb","opacity":1},"encoding":{"x":{"datum":100.14},"y":{"datum":44.5}}},
{"mark":{"type":"point","shape":"M-.5-1H-.3V1H-.5ZM-.9.6H-.5V.85H-.9ZM-.3-.5H0V-.25H-.3ZM.4-.6H.6V.7H.4ZM.1-.4H.4V-.15H.1ZM.6.2H.9V.45H.6Z","filled":true,"size":361,"color":"#555555","opacity":1},"encoding":{"x":{"datum":110.07},"y":{"datum":44.5}}},
{"mark":{"type":"rect","fill":"#56b186"},"encoding":{"x":{"datum":377.36},"x2":{"datum":385.36},"y":{"datum":44.885},"y2":{"datum":44.178}}},
{"mark":{"type":"point","shape":"M-1-.6H-.45L-.3-.9H.3L.45-.6H1V.85H-1Z","filled":true,"size":400,"color":"#ffffff","opacity":1},"encoding":{"x":{"datum":381.34},"y":{"datum":44.519}}},
{"mark":{"type":"point","shape":"circle","filled":false,"size":40,"color":"#56b186","strokeWidth":2,"opacity":1},"encoding":{"x":{"datum":381.34},"y":{"datum":44.51}}},
{"mark":{"type":"text","text":"ETCUSD, 60, KRAKEN","fontSize":15.5,"color":"#555555"},"encoding":{"x":{"datum":0.44},"y":{"datum":43.544}}},
{"mark":{"type":"point","shape":"triangle-down","filled":true,"size":20,"color":"#cccccc","opacity":1},"encoding":{"x":{"datum":39.56},"y":{"datum":43.544}}},
{"mark":{"type":"text","text":"O","fontSize":14,"color":"#666666"},"encoding":{"x":{"datum":47.99},"y":{"datum":43.544}}},
{"mark":{"type":"text","text":"30.004","fontSize":14,"color":"#56b186"},"encoding":{"x":{"datum":50.81},"y":{"datum":43.544}}},
{"mark":{"type":"text","text":"H","fontSize":14,"color":"#666666"},"encoding":{"x":{"datum":63.46},"y":{"datum":43.544}}},
{"mark":{"type":"text","text":"30.195","fontSize":14,"color":"#56b186"},"encoding":{"x":{"datum":66.04},"y":{"datum":43.544}}},
{"mark":{"type":"text","text":"L","fontSize":14,"color":"#666666"},"encoding":{"x":{"datum":78.8},"y":{"datum":43.544}}},
{"mark":{"type":"text","text":"29.820","fontSize":14,"color":"#56b186"},"encoding":{"x":{"datum":80.92},"y":{"datum":43.544}}},
{"mark":{"type":"text","text":"C","fontSize":14,"color":"#666666"},"encoding":{"x":{"datum":93.56},"y":{"datum":43.544}}},
{"mark":{"type":"text","text":"30.195","fontSize":14,"color":"#56b186"},"encoding":{"x":{"datum":96.02},"y":{"datum":43.544}}},
{"mark":{"type":"point","shape":"square","filled":true,"size":170,"color":"#e0e0e0","opacity":1},"encoding":{"x":{"datum":44.44},"y":{"datum":43.544}}},
{"mark":{"type":"text","text":"◉","fontSize":11,"font":"DejaVu Sans","color":"#ffffff","align":"center"},"encoding":{"x":{"datum":44.44},"y":{"datum":43.544}}},
{"mark":{"type":"text","text":". (20)","fontSize":12,"color":"#666666"},"encoding":{"x":{"datum":-0.26},"y":{"datum":43.03}}},
{"mark":{"type":"point","shape":"square","filled":true,"size":170,"color":"#dedede","opacity":1},"encoding":{"x":{"datum":12.48},"y":{"datum":43.03}}},
{"mark":{"type":"point","shape":"square","filled":true,"size":170,"color":"#dedede","opacity":1},"encoding":{"x":{"datum":16.58},"y":{"datum":43.03}}},
{"mark":{"type":"point","shape":"square","filled":true,"size":170,"color":"#dedede","opacity":1},"encoding":{"x":{"datum":20.52},"y":{"datum":43.03}}},
{"mark":{"type":"text","text":"◉","fontSize":11,"font":"DejaVu Sans","color":"#ffffff","align":"center"},"encoding":{"x":{"datum":12.48},"y":{"datum":43.03}}},
{"mark":{"type":"text","text":"✹","fontSize":11,"font":"DejaVu Sans","color":"#ffffff","align":"center"},"encoding":{"x":{"datum":16.58},"y":{"datum":43.03}}},
{"mark":{"type":"text","text":"✕","fontSize":11,"font":"DejaVu Sans","color":"#ffffff","align":"center"},"encoding":{"x":{"datum":20.52},"y":{"datum":43.03}}},
{"mark":{"type":"text","text":"422","fontSize":11.5,"color":"#56b186"},"encoding":{"x":{"datum":24.1},"y":{"datum":43.03}}},
{"mark":{"type":"text","text":"785","fontSize":11.5,"color":"#f5a262"},"encoding":{"x":{"datum":30.9},"y":{"datum":43.03}}},
{"mark":{"type":"text","text":"(20, close, 2)","fontSize":12,"color":"#666666"},"encoding":{"x":{"datum":0.2},"y":{"datum":42.544}}},
{"mark":{"type":"point","shape":"square","filled":true,"size":170,"color":"#dedede","opacity":1},"encoding":{"x":{"datum":23.33},"y":{"datum":42.544}}},
{"mark":{"type":"point","shape":"square","filled":true,"size":170,"color":"#dedede","opacity":1},"encoding":{"x":{"datum":27.36},"y":{"datum":42.544}}},
{"mark":{"type":"point","shape":"square","filled":true,"size":170,"color":"#dedede","opacity":1},"encoding":{"x":{"datum":31.36},"y":{"datum":42.544}}},
{"mark":{"type":"text","text":"◉","fontSize":11,"font":"DejaVu Sans","color":"#ffffff","align":"center"},"encoding":{"x":{"datum":23.33},"y":{"datum":42.544}}},
{"mark":{"type":"text","text":"✹","fontSize":11,"font":"DejaVu Sans","color":"#ffffff","align":"center"},"encoding":{"x":{"datum":27.36},"y":{"datum":42.544}}},
{"mark":{"type":"text","text":"✕","fontSize":11,"font":"DejaVu Sans","color":"#ffffff","align":"center"},"encoding":{"x":{"datum":31.36},"y":{"datum":42.544}}},
{"mark":{"type":"text","text":"29.9963","fontSize":11.5,"color":"#7d2f36"},"encoding":{"x":{"datum":34.88},"y":{"datum":42.544}}},
{"mark":{"type":"text","text":"30.3814","fontSize":11.5,"color":"#2f8b8d"},"encoding":{"x":{"datum":47.3},"y":{"datum":42.544}}},
{"mark":{"type":"text","text":"29.6113","fontSize":11.5,"color":"#2f8b8d"},"encoding":{"x":{"datum":59.48},"y":{"datum":42.544}}},
{"mark":{"type":"rect","fill":"#555555"},"encoding":{"x":{"datum":374.54},"x2":{"datum":385.08},"y":{"datum":31.044},"y2":{"datum":30.649}}},
{"mark":{"type":"text","text":"30.856","fontSize":12,"font":"Liberation Sans","fontWeight":"bold","color":"#ffffff","align":"center"},"encoding":{"x":{"datum":379.93},"y":{"datum":30.85}}},
{"mark":{"type":"rect","fill":"#e8515f"},"encoding":{"x":{"datum":374.54},"x2":{"datum":385.08},"y":{"datum":27.3},"y2":{"datum":26.935}}},
{"mark":{"type":"text","text":"27.133","fontSize":12,"font":"Liberation Sans","fontWeight":"bold","color":"#ffffff","align":"center"},"encoding":{"x":{"datum":379.93},"y":{"datum":27.115}}},
{"mark":{"type":"rect","fill":"#e8515f"},"encoding":{"x":{"datum":376.9},"x2":{"datum":385.08},"y":{"datum":26.91},"y2":{"datum":26.495}}},
{"mark":{"type":"text","text":"39:53","fontSize":12,"font":"Liberation Sans","fontWeight":"bold","color":"#ffffff","align":"center"},"encoding":{"x":{"datum":381.0},"y":{"datum":26.7}}}
]}
],
"resolve":{"scale":{"y":"independent"}}}
